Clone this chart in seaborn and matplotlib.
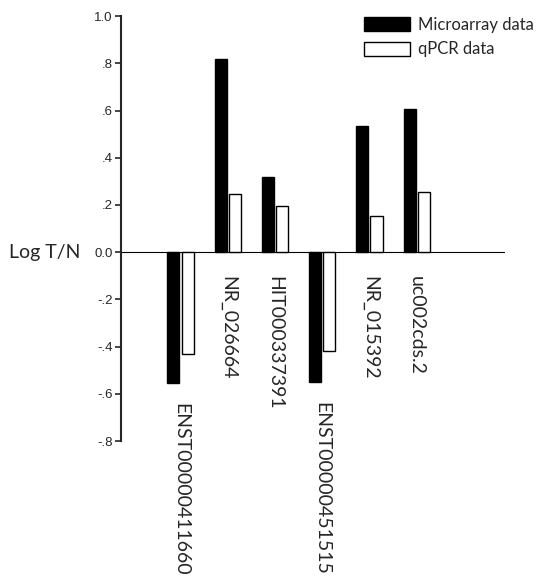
import pandas as pd
import matplotlib
matplotlib.use("Agg")
import matplotlib.pyplot as plt
import seaborn as sns

# values
genes = ["ENST00000411660", "NR_026664", "HIT000337391",
         "ENST00000451515", "NR_015392", "uc002cds.2"]
microarray = [-0.555, 0.818, 0.32, -0.55, 0.533, 0.605]
qpcr = [-0.43, 0.246, 0.196, -0.42, 0.153, 0.254]
yticks = [-0.8, -0.6, -0.4, -0.2, 0.0, 0.2, 0.4, 0.6, 0.8, 1.0]
ytick_labels = ["-.8", "-.6", "-.4", "-.2", "0.0", ".2", ".4", ".6", ".8", "1.0"]

df = pd.DataFrame({"gene": genes * 2,
                   "value": microarray + qpcr,
                   "kind": ["Microarray data"] * len(genes) + ["qPCR data"] * len(genes)})

sns.set_style("ticks")
plt.rcParams["font.family"] = ["Lato", "DejaVu Sans"]

fig = plt.figure(figsize=(5.45, 5.78), dpi=100)
ax = fig.add_axes([0.222, 0.237, 0.705, 0.735])

sns.barplot(data=df, x="gene", y="value", hue="kind", order=genes,
            palette={"Microarray data": "black", "qPCR data": "white"},
            width=0.6, gap=0.15, edgecolor="black", linewidth=1,
            ax=ax)

ax.set_xlim(-1.26, 6.876)
ax.set_ylim(-0.8, 1.0)
ax.axhline(0, color="black", lw=0.8, zorder=0)

# y axis
ax.set_yticks(yticks)
ax.set_yticklabels(ytick_labels, fontfamily="Liberation Sans", fontsize=9.5)
ax.tick_params(axis="y", length=4, width=1.2, pad=2)
ax.spines["left"].set_linewidth(1.5)
for s in ["top", "right", "bottom"]:
    ax.spines[s].set_visible(False)
ax.set_ylabel("")
ax.text(-0.105, 0.0, "Log T/N", transform=ax.get_yaxis_transform(),
        ha="right", va="center", fontsize=14)

# x labels drawn vertically under each group
ax.set_xticks([])
ax.set_xlabel("")
for i, g in enumerate(genes):
    low = min(0, microarray[i], qpcr[i])
    ax.text(i, low - 0.085 if low < 0 else -0.1, g, rotation=270,
            ha="center", va="top", fontsize=14, clip_on=False)

leg = ax.legend(loc="upper left", bbox_to_anchor=(0.652, 0.985),
                bbox_transform=fig.transFigure, frameon=False,
                fontsize=12, handlelength=2.8, handleheight=0.9,
                handletextpad=0.45, labelspacing=0.5, borderpad=0)

fig.savefig("out.png", dpi=100)
